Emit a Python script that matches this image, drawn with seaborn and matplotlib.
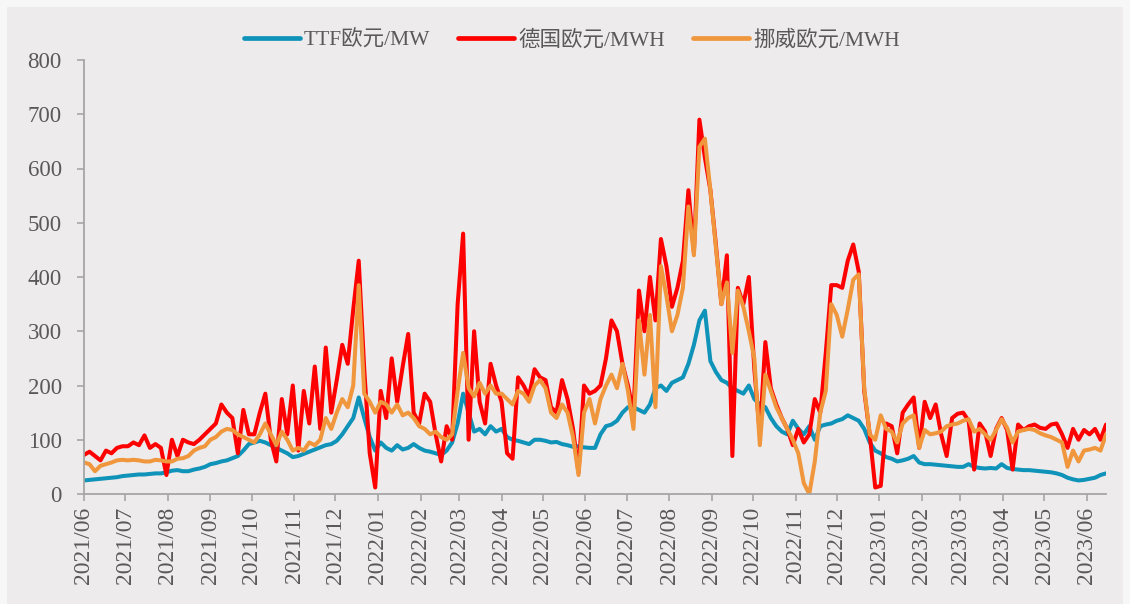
import matplotlib
matplotlib.use("Agg")
import matplotlib.pyplot as plt
from matplotlib.patches import Rectangle
import pandas as pd
import seaborn as sns

# ---------------- data (one value every 4 days from 2021-06-01) ----------------
start_date = "2021-06-01"
step = "4D"

ttf = [
    25, 26, 27, 28, 29, 30, 31, 33,            # 2021/06
    34, 35, 36, 36, 37, 38, 38, 40,            # 2021/07
    43, 44, 42, 42, 45, 47, 50,                # 2021/08
    55, 57, 60, 62, 66, 70, 80, 92,            # 2021/09
    95, 98, 95, 90, 85, 80, 75, 68,            # 2021/10
    70, 74, 78, 82, 86, 90, 92,                # 2021/11
    98, 110, 125, 140, 178, 140, 105, 80,      # 2021/12
    95, 85, 80, 90, 82, 85, 92,                # 2022/01
    85, 80, 78, 75, 72, 80, 95,                # 2022/02
    130, 185, 150, 115, 120, 110, 125, 115,    # 2022/03
    120, 105, 100, 98, 95, 92, 100, 100,       # 2022/04
    98, 95, 96, 92, 90, 87, 88, 86,            # 2022/05
    85, 85, 110, 125, 128, 135, 150,           # 2022/06
    160, 160, 155, 150, 165, 195, 200, 190,    # 2022/07
    205, 210, 215, 240, 275, 320, 338, 245,    # 2022/08
    225, 210, 205, 195, 190, 185, 200,         # 2022/09
    175, 165, 160, 140, 125, 115, 110, 135,    # 2022/10
    120, 110, 125, 100, 125, 128, 130,         # 2022/11
    135, 138, 145, 140, 135, 120, 95, 80,      # 2022/12
    75, 68, 65, 60, 62, 65, 70, 58,            # 2023/01
    55, 55, 54, 53, 52, 51, 50,                # 2023/02
    50, 55, 50, 48, 47, 48, 47,                # 2023/03
    55, 48, 46, 45, 44, 44, 43, 42,            # 2023/04
    41, 40, 38, 35, 30, 27, 25, 26,            # 2023/05
    28, 30, 35, 38,                            # 2023/06
]

germany = [
    72, 78, 70, 62, 80, 75, 85, 88,
    88, 95, 90, 108, 85, 92, 85, 35,
    100, 70, 100, 95, 92, 100, 110,
    120, 130, 165, 150, 140, 75, 155, 110,
    110, 150, 185, 100, 60, 175, 110, 200,
    80, 190, 130, 235, 120, 270, 150,
    210, 275, 240, 340, 430, 230, 75, 12,
    190, 140, 250, 170, 235, 295, 150,
    130, 185, 170, 110, 60, 125, 100,
    350, 480, 100, 300, 170, 130, 240, 200,
    170, 75, 65, 215, 200, 180, 230, 215,
    210, 160, 150, 210, 175, 120, 40, 200,
    185, 190, 200, 250, 320, 300, 240,
    200, 150, 375, 300, 400, 320, 470, 420,
    345, 380, 430, 560, 445, 690, 620, 560,
    460, 350, 440, 70, 380, 350, 400,
    230, 110, 280, 195, 165, 140, 120, 90,
    120, 95, 110, 175, 150, 260, 385,
    385, 380, 430, 460, 410, 190, 110, 12,
    15, 130, 125, 75, 150, 165, 178, 85,
    170, 140, 165, 110, 70, 140, 148,
    150, 135, 45, 130, 115, 70, 120,
    140, 118, 45, 128, 118, 125, 128, 122,
    120, 128, 130, 110, 85, 120, 100, 118,
    110, 120, 100, 128,
]

norway = [
    58, 55, 42, 52, 55, 58, 62, 63,
    62, 63, 62, 60, 60, 63, 62, 60,
    60, 65, 66, 70, 80, 85, 88,
    100, 105, 115, 120, 118, 110, 105, 100,
    95, 110, 130, 110, 90, 115, 100, 80,
    85, 80, 95, 90, 100, 140, 120,
    150, 175, 160, 200, 385, 185, 170, 150,
    170, 165, 150, 165, 145, 150, 140,
    125, 120, 110, 115, 105, 100, 110,
    190, 260, 195, 180, 205, 185, 200, 185,
    185, 175, 165, 190, 185, 170, 200, 210,
    195, 150, 140, 165, 150, 105, 35, 150,
    175, 130, 175, 200, 220, 195, 240,
    190, 120, 320, 220, 330, 160, 420, 365,
    300, 330, 380, 530, 440, 640, 655, 560,
    455, 350, 390, 260, 375, 345, 300,
    250, 90, 220, 190, 160, 140, 120, 100,
    75, 20, 0, 60, 150, 190, 350,
    330, 290, 340, 395, 405, 195, 110, 100,
    145, 120, 115, 95, 130, 140, 145, 85,
    118, 110, 112, 115, 125, 128, 130,
    135, 138, 115, 120, 110, 100, 118,
    138, 122, 95, 115, 118, 120, 118, 112,
    108, 105, 100, 95, 50, 80, 60, 80,
    82, 85, 80, 110,
]

series_names = ["TTF欧元/MW", "德国欧元/MWH", "挪威欧元/MWH"]
series_colors = ["#0F93B8", "#FF0000", "#F0963C"]

month_ticks = [
    "2021/06", "2021/07", "2021/08", "2021/09", "2021/10", "2021/11", "2021/12",
    "2022/01", "2022/02", "2022/03", "2022/04", "2022/05", "2022/06", "2022/07",
    "2022/08", "2022/09", "2022/10", "2022/11", "2022/12",
    "2023/01", "2023/02", "2023/03", "2023/04", "2023/05", "2023/06",
]
y_ticks = [0, 100, 200, 300, 400, 500, 600, 700, 800]

# ---------------- build frame ----------------
dates = pd.date_range(start_date, periods=len(ttf), freq=step)
wide = pd.DataFrame({"date": dates,
                     series_names[0]: ttf,
                     series_names[1]: germany,
                     series_names[2]: norway})
long = wide.melt(id_vars="date", var_name="series", value_name="value")

# ---------------- style ----------------
sns.set_style("white")
plt.rcParams["font.family"] = ["Liberation Serif", "Noto Sans CJK SC"]
plt.rcParams["axes.unicode_minus"] = False

BG = "#EDEBEC"
TXT = "#595959"
AX = "#A6A6A6"

fig = plt.figure(figsize=(11.3, 6.04), dpi=100, facecolor="#F7F7F7")
fig.add_artist(Rectangle((7 / 1130, 0), (1130 - 14) / 1130, (604 - 7) / 604,
                         transform=fig.transFigure, facecolor=BG,
                         edgecolor="none", zorder=-10))

ax = fig.add_axes([84 / 1130, 110 / 604, (1106 - 84) / 1130, 434 / 604])
ax.set_facecolor(BG)

sns.lineplot(data=long, x="date", y="value", hue="series",
             hue_order=series_names, palette=series_colors,
             linewidth=2.9, ax=ax)

ax.set_ylim(0, 800)
ax.set_yticks(y_ticks)
ax.set_xlim(dates[0], dates[-1])
tick_dates = [pd.Timestamp(m.replace("/", "-") + "-01") for m in month_ticks]
ax.set_xticks(tick_dates)
ax.set_xticklabels(month_ticks, rotation=90, ha="center", va="top")
ax.set_xlabel("")
ax.set_ylabel("")

for s in ["top", "right"]:
    ax.spines[s].set_visible(False)
for s in ["left", "bottom"]:
    ax.spines[s].set_color(AX)
    ax.spines[s].set_linewidth(1.3)

ax.tick_params(axis="y", length=5, width=1.2, color=AX, labelsize=16.5,
               labelcolor=TXT, pad=11, left=True)
ax.tick_params(axis="x", length=5, width=1.2, color=AX, labelsize=17,
               labelcolor=TXT, pad=4, bottom=True, direction="out")
ax.grid(False)

sns.move_legend(ax, "center", bbox_to_anchor=(0.4775, 1.046), ncol=3,
                frameon=False, title=None, fontsize=15.5,
                handlelength=2.6, handletextpad=0.2, columnspacing=1.3,
                labelcolor=TXT)
for line in ax.get_legend().get_lines():
    line.set_linewidth(3.4)

fig.savefig("out.png", dpi=100, facecolor=fig.get_facecolor())
